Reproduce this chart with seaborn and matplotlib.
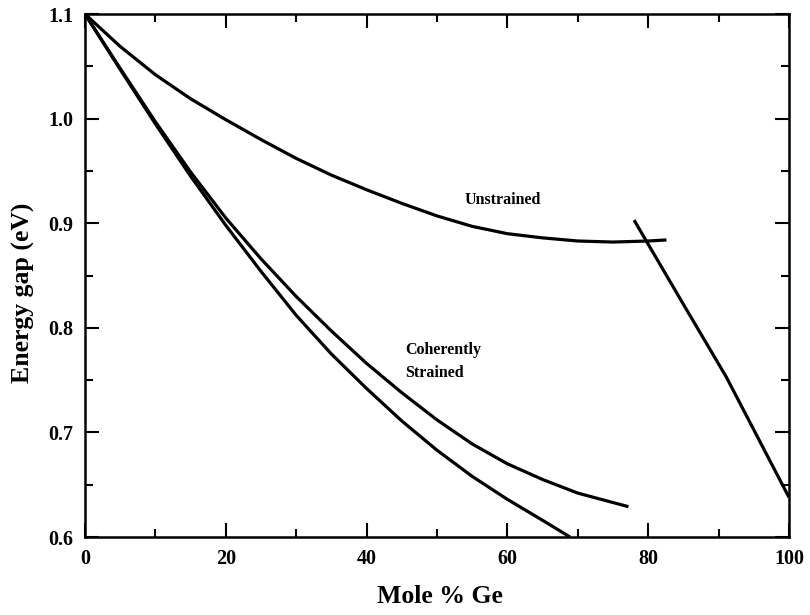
import matplotlib
matplotlib.use("Agg")
import matplotlib.pyplot as plt
from matplotlib.ticker import MultipleLocator
import pandas as pd
import seaborn as sns

# Band gap of Si(1-x)Ge(x) versus germanium content
unstrained_x = [0, 5, 10, 15, 20, 25, 30, 35, 40, 45, 50, 55, 60, 65, 70, 75, 80, 82.6]
unstrained_y = [1.1, 1.069, 1.042, 1.019, 0.999, 0.980, 0.962, 0.946, 0.932, 0.919,
                0.907, 0.897, 0.890, 0.886, 0.883, 0.882, 0.883, 0.884]

ge_branch_x = [78.0, 84.7, 91.1, 100]
ge_branch_y = [0.903, 0.826, 0.753, 0.638]

strained_upper_x = [0, 5, 10, 15, 20, 25, 30, 35, 40, 45, 50, 55, 60, 65, 70, 77.2]
strained_upper_y = [1.1, 1.048, 0.997, 0.949, 0.905, 0.866, 0.830, 0.797, 0.766, 0.738,
                    0.712, 0.689, 0.670, 0.655, 0.642, 0.629]

strained_lower_x = [0, 5, 10, 15, 20, 25, 30, 35, 40, 45, 50, 55, 60, 65, 68.9]
strained_lower_y = [1.1, 1.047, 0.995, 0.945, 0.898, 0.854, 0.812, 0.775, 0.742, 0.711,
                    0.683, 0.658, 0.636, 0.616, 0.600]

x_ticks = [0, 20, 40, 60, 80, 100]
y_ticks = [0.6, 0.7, 0.8, 0.9, 1.0, 1.1]

sns.set_style("ticks")
plt.rcParams["font.family"] = ["Liberation Serif", "DejaVu Serif"]
plt.rcParams["font.weight"] = "bold"
plt.rcParams["text.color"] = "black"
plt.rcParams["axes.labelcolor"] = "black"
plt.rcParams["xtick.color"] = "black"
plt.rcParams["ytick.color"] = "black"

fig = plt.figure(figsize=(8.1, 6.15), dpi=100)
ax = fig.add_axes([0.1049, 0.1268, 0.8691, 0.8504])

series = [
    (unstrained_x, unstrained_y),
    (ge_branch_x, ge_branch_y),
    (strained_upper_x, strained_upper_y),
    (strained_lower_x, strained_lower_y),
]
for xs, ys in series:
    df = pd.DataFrame({"x": xs, "y": ys})
    sns.lineplot(data=df, x="x", y="y", ax=ax, color="black", linewidth=2.3,
                 sort=False, estimator=None, solid_capstyle="butt",
                 solid_joinstyle="round")

ax.set_xlim(0, 100)
ax.set_ylim(0.6, 1.1)
ax.set_xticks(x_ticks)
ax.set_yticks(y_ticks)
ax.set_xticklabels([f"{v:g}" for v in x_ticks])
ax.set_yticklabels([f"{v:.1f}" for v in y_ticks])
ax.xaxis.set_minor_locator(MultipleLocator(10))
ax.yaxis.set_minor_locator(MultipleLocator(0.05))
ax.tick_params(which="both", direction="in", top=True, right=True,
               colors="black", width=1.5)
ax.tick_params(which="major", length=10, labelsize=14.5, pad=8.5)
ax.tick_params(which="minor", length=6)
for lbl in ax.get_xticklabels() + ax.get_yticklabels():
    lbl.set_fontweight("bold")

for sp in ax.spines.values():
    sp.set_linewidth(1.8)
    sp.set_color("black")

ax.set_xlabel("Mole % Ge", fontsize=18.5, fontweight="bold", va="center")
ax.xaxis.set_label_coords(0.504, -0.113)
ax.set_ylabel("Energy gap (eV)", fontsize=18.5, fontweight="bold",
              va="center", ha="center")
ax.yaxis.set_label_coords(-0.088, 0.466)

ax.text(59.3, 0.922, "Unstrained", fontsize=11.5, fontweight="bold",
        ha="center", va="center")
ax.text(45.5, 0.768, "Coherently\nStrained", fontsize=11.5, fontweight="bold",
        ha="left", va="center", linespacing=1.55)

fig.savefig("out.png", dpi=100)
